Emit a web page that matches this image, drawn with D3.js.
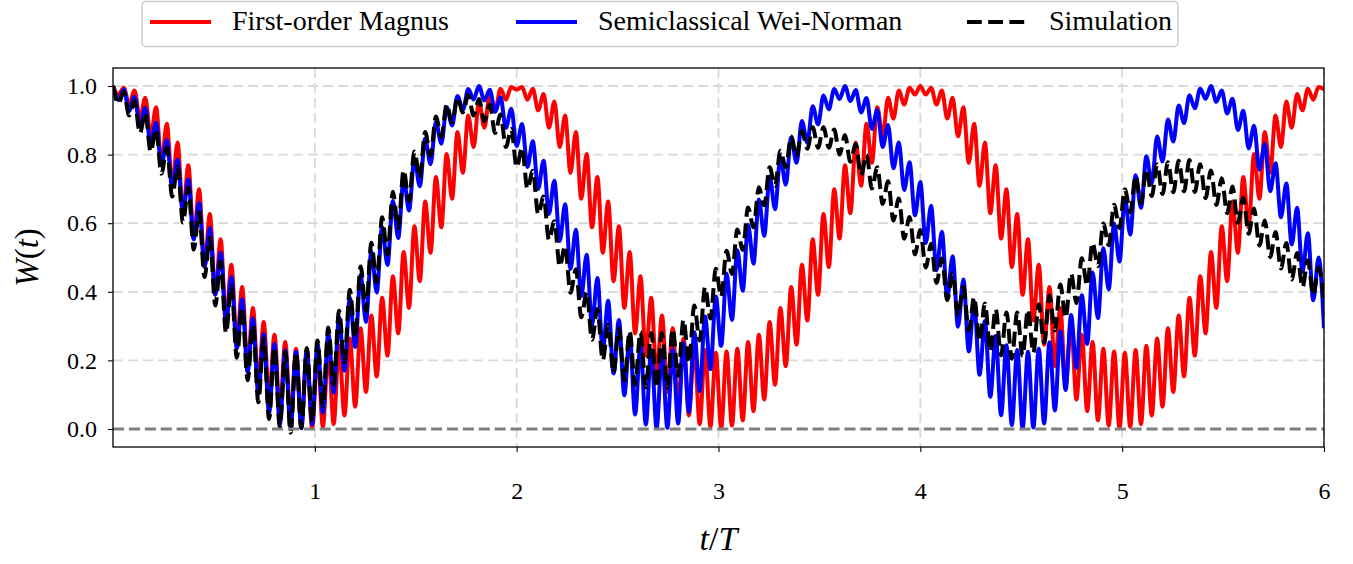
<!DOCTYPE html>
<html>
  <head>
    <meta charset="utf-8">
    <title>W(t)</title>
    <script src="https://cdnjs.cloudflare.com/ajax/libs/d3/7.8.5/d3.min.js"></script>
    <style type="text/css">
        html, body{
            padding: 0px;
            margin: 0px;
            background: #fff;
        }
        svg text{
            font-family: "Liberation Serif", "Times New Roman", serif;
            fill: #000;
        }
    </style>
  </head>
  <body>
    <div id="vis"></div>
    <script type="text/javascript">

        // legend / series names
        var seriesNames = ["First-order Magnus", "Semiclassical Wei-Norman", "Simulation"];
        var seriesColors = ["#ff0000", "#0000ff", "#000000"];

        var xTicks = [1, 2, 3, 4, 5, 6];
        var yTicks = [0.0, 0.2, 0.4, 0.6, 0.8, 1.0];

        // values read at every peak / trough of the fast ripple,
        // the ripple extrema sit on a regular grid: 225 half periods over 0..6 T
        var nHalfPeriods = 225;

        var magnus = [
            1.0, .975, .995, .946, .987, .905, .966, .853, .938, .776, .89, .709, .835, .629, .769, .555, .699, .472, .627, .391,
            .553, .316, .479, .246, .414, .183, .353, .129, .312, .086, .275, .052, .254, .025, .234, .01, .226, .002,
            .222, .006, .23, .014, .243, .039, .264, .065, .294, .108, .331, .153, .383, .214, .445, .279, .516, .353, .591, .431,
            .663, .514, .735, .588, .802, .671, .866, .747, .914, .822, .955, .878, .977, .929, .992, .96, .997, .99,
            .997, .96, .992, .929, .977, .878, .955, .822, .914, .747, .866, .671, .802, .588, .735, .514, .663, .431, .591, .353,
            .516, .279, .445, .214, .383, .153, .331, .108, .294, .065, .264, .039, .243, .014, .23, .006, .222,
            .002, .226, .01, .234, .025, .254, .052, .275, .086, .312, .129, .353, .183, .414, .246, .479, .316, .553, .391, .627,
            .472, .699, .555, .769, .629, .835, .709, .89, .776, .938, .853, .966, .905, .987, .946, .995, .975, 1.0,
            .975, .995, .946, .987, .905, .966, .853, .938, .776, .89, .709, .835, .629, .769, .555, .699, .472, .627, .391, .553,
            .316, .479, .246, .414, .183, .353, .129, .312, .086, .275, .052, .254, .025, .234, .01, .226, .002,
            .222, .006, .23, .014, .243, .039, .264, .065, .294, .108, .331, .153, .383, .214, .445, .279, .516, .353, .591, .431,
            .663, .514, .735, .588, .802, .671, .866, .747, .914, .822, .955, .878, .977, .929, .992, .96, .997, .99
        ];

        var weiNorman = [
            1.0, .959, .99, .928, .969, .882, .936, .828, .893, .768,
            .842, .704, .785, .631, .728, .553, .659, .473, .585, .392,
            .514, .308, .443, .235, .378, .166, .322, .102, .276, .046,
            .248, .013, .23, .003, .225, .002, .231, .014, .249, .048,
            .28, .106, .325, .17, .382, .239, .449, .312, .518, .398,
            .589, .478, .665, .557, .732, .637, .788, .708, .846, .772,
            .896, .832, .938, .885, .971, .93, .991, .961, 1.0, .958,
            .989, .925, .967, .878, .934, .825, .889, .764, .839, .7,
            .782, .627, .724, .548, .655, .467, .581, .387, .508, .304,
            .44, .229, .374, .162, .318, .098, .274, .042, .246, .013,
            .23, .002, .225, .003, .232, .016, .251, .05, .282, .11,
            .328, .174, .386, .242, .453, .318, .521, .403, .595, .482,
            .669, .563, .736, .641, .792, .712, .85, .776, .898, .835,
            .941, .888, .972, .932, .991, .962, 1.0, .956, .988, .923,
            .965, .875, .93, .822, .886, .76, .835, .697, .778, .623,
            .72, .542, .651, .463, .575, .382, .504, .298, .436, .226,
            .37, .158, .315, .094, .271, .04, .244, .012, .23, .002,
            .225, .004, .234, .016, .253, .054, .285, .114, .332, .178,
            .39, .248, .456, .323, .527, .407, .599, .488, .673, .567,
            .74, .645, .795, .716, .853, .78, .902, .838, .943, .892,
            .973, .935, .992, .963, 1.0, .954, .987, .92, .963, .872,
            .928, .818, .884, .756, .831, .693, .775, .617, .716, .538,
            .645, .458, .571, .375, .5, .294
        ];

        var simulation = [
            1.0, .949, .983, .914, .956, .862, .921, .808, .874, .744,
            .82, .678, .765, .602, .705, .523, .632, .443, .557, .36,
            .488, .28, .418, .208, .355, .142, .304, .078, .264, .029,
            .239, .006, .225, -.011, .224, .003, .236, .021, .258, .066,
            .296, .13, .345, .195, .406, .266, .474, .344, .543, .427,
            .617, .507, .692, .586, .755, .664, .809, .732, .866, .796,
            .911, .852, .946, .894, .967, .923, .973, .914, .962, .897,
            .946, .863, .917, .822, .875, .763, .82, .7, .753, .626,
            .678, .551, .606, .474, .534, .397, .466, .326, .399, .26,
            .35, .2, .304, .163, .294, .141, .285, .129, .283, .121,
            .28, .12, .28, .12, .292, .155, .318, .193, .36, .258,
            .414, .322, .467, .386, .52, .452, .582, .522, .646, .588,
            .705, .652, .763, .709, .811, .763, .853, .795, .869, .817,
            .88, .82, .88, .82, .873, .8, .857, .779, .831, .74,
            .8, .701, .763, .656, .722, .608, .672, .555, .618, .509,
            .58, .471, .54, .426, .497, .376, .453, .33, .415, .288,
            .384, .256, .366, .227, .35, .215, .34, .205, .34, .213,
            .348, .222, .364, .252, .389, .287, .421, .324, .453, .367,
            .498, .418, .543, .475, .599, .536, .654, .586, .699, .632,
            .737, .658, .758, .679, .772, .685, .778, .69, .782, .693,
            .784, .691, .772, .673, .754, .653, .731, .629, .707, .601,
            .675, .569, .643, .535, .608, .501, .574, .468, .542, .436,
            .513, .413, .492, .391, .471, .37
        ];

        var seriesValues = [magnus, weiNorman, simulation];

        var width = 1353,
            height = 564;

        var plotLeft = 113, plotRight = 1324,
            plotTop = 68, plotBottom = 447;

        var x = d3.scaleLinear()
            .domain([0, 6])
            .range([plotLeft, plotRight]);

        var y = d3.scaleLinear()
            .domain([-0.0525, 1.0525])
            .range([plotBottom, plotTop]);

        var svg = d3.select("#vis").append("svg")
            .attr("width", width)
            .attr("height", height)
            .style("display", "block");

        svg.append("defs").append("clipPath")
            .attr("id", "plotclip")
          .append("rect")
            .attr("x", plotLeft)
            .attr("y", plotTop)
            .attr("width", plotRight - plotLeft)
            .attr("height", plotBottom - plotTop);

        // grid
        var grid = svg.append("g")
            .attr("stroke", "#d9d9d9")
            .attr("stroke-width", 1.8)
            .attr("stroke-dasharray", "10,5");

        grid.selectAll("line.gx")
            .data(xTicks)
          .enter().append("line")
            .attr("class", "gx")
            .attr("x1", function(d){ return x(d); })
            .attr("x2", function(d){ return x(d); })
            .attr("y1", plotTop)
            .attr("y2", plotBottom);

        grid.selectAll("line.gy")
            .data(yTicks.filter(function(d){ return d > 0; }))
          .enter().append("line")
            .attr("class", "gy")
            .attr("x1", plotLeft)
            .attr("x2", plotRight)
            .attr("y1", function(d){ return y(d); })
            .attr("y2", function(d){ return y(d); });

        // curves
        var line = d3.line()
            .x(function(d, i){ return x(i * 6 / nHalfPeriods); })
            .y(function(d){ return y(d); })
            .curve(d3.curveMonotoneX);

        var curves = svg.append("g")
            .attr("clip-path", "url(#plotclip)");

        seriesValues.forEach(function(vals, i){
            curves.append("path")
                .datum(vals)
                .attr("d", line)
                .attr("fill", "none")
                .attr("stroke", seriesColors[i])
                .attr("stroke-width", 4)
                .attr("stroke-linejoin", "round")
                .attr("stroke-dasharray", i == 2 ? "14.8,6.4" : null);
        });

        // zero reference line
        svg.append("line")
            .attr("x1", plotLeft)
            .attr("x2", plotRight)
            .attr("y1", y(0))
            .attr("y2", y(0))
            .attr("stroke", "#7f7f7f")
            .attr("stroke-width", 3)
            .attr("stroke-dasharray", "11.1,4.8");

        // axes
        var yAxis = d3.axisLeft(y)
            .tickValues(yTicks)
            .tickFormat(d3.format(".1f"))
            .tickSize(5)
            .tickPadding(11);

        var xAxis = d3.axisBottom(x)
            .tickValues(xTicks)
            .tickFormat(d3.format("d"))
            .tickSize(5)
            .tickPadding(30);

        var gy = svg.append("g")
            .attr("transform", "translate(" + plotLeft + ",0)")
            .call(yAxis);

        var gx = svg.append("g")
            .attr("transform", "translate(0," + plotBottom + ")")
            .call(xAxis);

        [gx, gy].forEach(function(g){
            g.select(".domain").remove();
            g.selectAll("line").attr("stroke", "#000").attr("stroke-width", 1.1);
            g.selectAll("text")
                .attr("font-family", null)
                .attr("font-size", null)
                .style("font-size", "24px");
        });

        svg.append("rect")
            .attr("x", plotLeft)
            .attr("y", plotTop)
            .attr("width", plotRight - plotLeft)
            .attr("height", plotBottom - plotTop)
            .attr("fill", "none")
            .attr("stroke", "#000")
            .attr("stroke-width", 1.3);

        // axis titles
        var xTitle = svg.append("text")
            .attr("x", (plotLeft + plotRight) / 2)
            .attr("y", 550)
            .attr("text-anchor", "middle")
            .style("font-size", "34px");
        xTitle.append("tspan").style("font-style", "italic").text("t");
        xTitle.append("tspan").text("/");
        xTitle.append("tspan").style("font-style", "italic").text("T");

        var yTitle = svg.append("text")
            .attr("transform", "translate(38," + ((plotTop + plotBottom) / 2) + ") rotate(-90)")
            .attr("text-anchor", "middle")
            .style("font-size", "33px");
        yTitle.append("tspan").style("font-style", "italic").text("W");
        yTitle.append("tspan").text("(");
        yTitle.append("tspan").style("font-style", "italic").text("t");
        yTitle.append("tspan").text(")");

        // legend
        var legend = svg.append("g");

        legend.append("rect")
            .attr("x", 142)
            .attr("y", 1.5)
            .attr("width", 1036)
            .attr("height", 45)
            .attr("rx", 4)
            .attr("fill", "#fff")
            .attr("stroke", "#cccccc")
            .attr("stroke-width", 1.5);

        var legendX = [150, 516, 967];

        seriesNames.forEach(function(name, i){
            legend.append("line")
                .attr("x1", legendX[i])
                .attr("x2", legendX[i] + 61)
                .attr("y1", 22)
                .attr("y2", 22)
                .attr("stroke", seriesColors[i])
                .attr("stroke-width", 4)
                .attr("stroke-dasharray", i == 2 ? "14.8,6.4" : null);

            legend.append("text")
                .attr("x", legendX[i] + 82)
                .attr("y", 30)
                .style("font-size", "28px")
                .text(name);
        });

    </script>
  </body>
</html>
